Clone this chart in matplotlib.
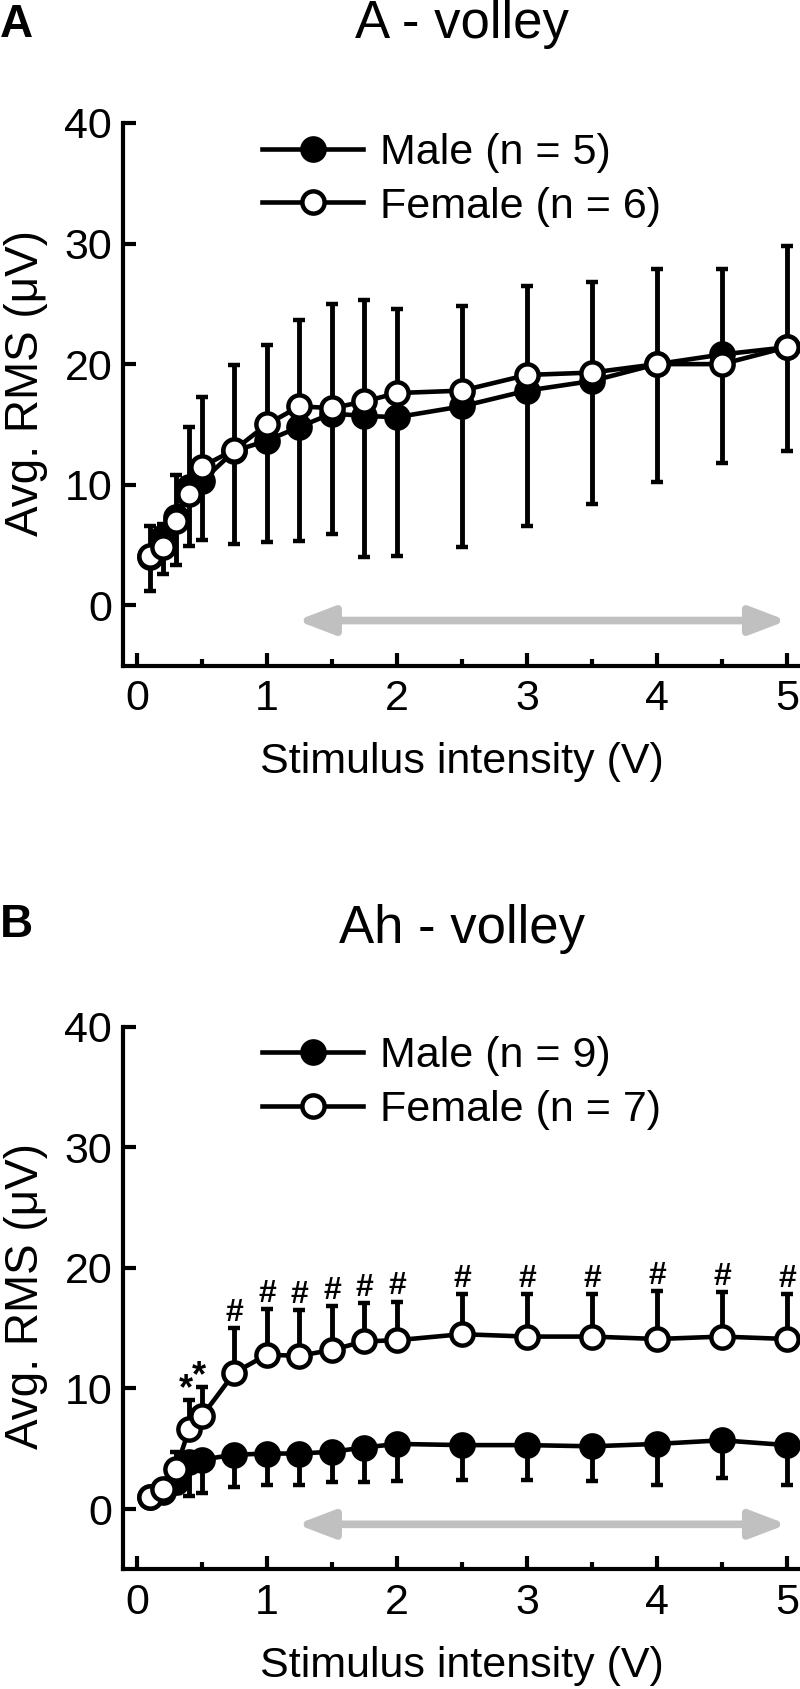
import numpy as np
import matplotlib
matplotlib.use("Agg")
import matplotlib.pyplot as plt
from matplotlib.ticker import MultipleLocator

plt.rcParams['font.family'] = ['Liberation Sans', 'DejaVu Sans']

# stimulus intensities (V)
volts = [0.1, 0.2, 0.3, 0.4, 0.5, 0.75, 1, 1.25, 1.5, 1.75, 2, 2.5, 3, 3.5, 4, 4.5, 5]

# A - volley
a_male = [4.0, 5.7, 7.3, 9.8, 10.3, 12.8, 13.65, 14.8, 15.9, 15.7, 15.6, 16.5, 17.8, 18.6, 20.0, 20.8, 21.4]
a_male_err = [2.8, 3.1, 4.0, 4.9, 4.9, 7.7, 8.4, 9.5, 10.0, 11.7, 11.5, 11.7, 11.2, 10.2, 9.8, 9.0, 8.6]
a_female = [4.1, 4.8, 7.0, 9.2, 11.5, 12.9, 15.0, 16.5, 16.35, 16.9, 17.6, 17.8, 19.1, 19.3, 20.0, 20.0, 21.4]
a_female_err = [2.5, 1.9, 3.8, 5.6, 5.8, 7.0, 6.6, 7.2, 8.6, 8.4, 7.0, 7.0, 7.4, 7.5, 7.9, 7.9, 8.4]

# Ah - volley
b_male = [1.0, 1.4, 2.2, 3.9, 4.1, 4.5, 4.6, 4.6, 4.75, 5.1, 5.4, 5.3, 5.3, 5.2, 5.4, 5.7, 5.3]
b_male_err = [0.3, 0.4, 0.9, 2.8, 2.8, 2.7, 2.6, 2.6, 2.55, 2.9, 3.1, 2.9, 2.9, 2.9, 3.4, 3.1, 3.3]
b_female = [0.96, 1.65, 3.3, 6.6, 7.7, 11.3, 12.8, 12.7, 13.2, 13.9, 14.0, 14.5, 14.3, 14.3, 14.1, 14.3, 14.1]
b_female_err = [0.3, 0.4, 1.45, 2.4, 2.4, 3.7, 3.8, 3.8, 3.65, 3.2, 3.2, 3.3, 3.5, 3.5, 4.0, 3.7, 3.7]
b_marks = ['', '', '', '*', '*', '#', '#', '#', '#', '#', '#', '#', '#', '#', '#', '#', '#']

# grey arrow span (V)
arrow_span = (1.23, 5.0)

W, H = 800, 1689
fig = plt.figure(figsize=(W / 100, H / 100), dpi=100)


def px_axes(left, top, right, bottom):
    return fig.add_axes([left / W, 1 - bottom / H, (right - left) / W, (bottom - top) / H])


def draw_panel(ax, male, male_err, female, female_err, n_male, n_female):
    zeros = np.zeros(len(volts))
    ax.errorbar(volts, male, yerr=[male_err, zeros], fmt='none', ecolor='k',
                elinewidth=3.5, capsize=4.5, capthick=3.2, zorder=2, clip_on=False)
    ax.errorbar(volts, female, yerr=[zeros, female_err], fmt='none', ecolor='k',
                elinewidth=3.5, capsize=4.5, capthick=3.2, zorder=2, clip_on=False)
    ax.plot(volts, male, '-o', color='k', mfc='k', mec='k', ms=16, mew=3.2, lw=3.3,
            zorder=3, clip_on=False, label=f'Male (n = {n_male})')
    ax.plot(volts, female, '-o', color='k', mfc='white', mec='k', ms=16, mew=3.2, lw=3.3,
            zorder=4, clip_on=False, label=f'Female (n = {n_female})')

    ax.annotate('', xy=(arrow_span[1], -1.27), xytext=(arrow_span[0], -1.27),
                arrowprops=dict(arrowstyle='<|-|>,head_length=1.1,head_width=0.42',
                                mutation_scale=20, lw=5.5, color='#c0c0c0',
                                shrinkA=0, shrinkB=0, joinstyle='round'))

    ax.set_xlim(-0.105, 5.1)
    ax.set_ylim(-5, 40)
    ax.set_yticks([0, 10, 20, 30, 40])
    ax.xaxis.set_major_locator(MultipleLocator(1))
    ax.xaxis.set_minor_locator(MultipleLocator(0.5))
    for s in ('top', 'right'):
        ax.spines[s].set_visible(False)
    for s in ('left', 'bottom'):
        ax.spines[s].set_linewidth(3)
    ax.tick_params(which='major', direction='in', length=9.5, width=3, labelsize=31)
    ax.tick_params(which='minor', direction='in', length=5, width=3)
    ax.tick_params(axis='x', pad=10)
    ax.tick_params(axis='y', pad=8)

    ax.legend(loc='upper left', bbox_to_anchor=(0.205, 0.982), frameon=False, fontsize=31,
              handlelength=2.35, handletextpad=0.4, labelspacing=0.32,
              borderpad=0, borderaxespad=0)


ax_a = px_axes(123.3, 123, 800, 665.5)
draw_panel(ax_a, a_male, a_male_err, a_female, a_female_err, 5, 6)

ax_b = px_axes(123.3, 1026.7, 800, 1569.3)
draw_panel(ax_b, b_male, b_male_err, b_female, b_female_err, 9, 7)

for x, y, e, m in zip(volts, b_female, b_female_err, b_marks):
    if m == '#':
        ax_b.text(x, y + e + 0.6, m, ha='center', va='baseline', fontsize=23, fontweight='bold')
    elif m == '*':
        ax_b.text(x - 0.02, y + e + 0.1, m, ha='center', va='baseline', fontsize=26, fontweight='bold')

cx = (123.3 + 800) / 2 / W
fig.text(cx, 1 - 38 / H, 'A - volley', ha='center', va='baseline', fontsize=38)
fig.text(cx, 1 - 943 / H, 'Ah - volley', ha='center', va='baseline', fontsize=38)
fig.text(0.0, 1 - 37 / H, 'A', ha='left', va='baseline', fontsize=33, fontweight='bold')
fig.text(0.0, 1 - 937 / H, 'B', ha='left', va='baseline', fontsize=33, fontweight='bold')

fig.text(26 / W, 1 - 383 / H, 'Avg. RMS (\u03bcV)', rotation=90, ha='center', va='center', fontsize=33)
fig.text(26 / W, 1 - 1296 / H, 'Avg. RMS (\u03bcV)', rotation=90, ha='center', va='center', fontsize=33)
fig.text(cx, 1 - 773 / H, 'Stimulus intensity (V)', ha='center', va='baseline', fontsize=31)
fig.text(cx, 1 - 1677 / H, 'Stimulus intensity (V)', ha='center', va='baseline', fontsize=31)

fig.savefig('out.png', dpi=100)
